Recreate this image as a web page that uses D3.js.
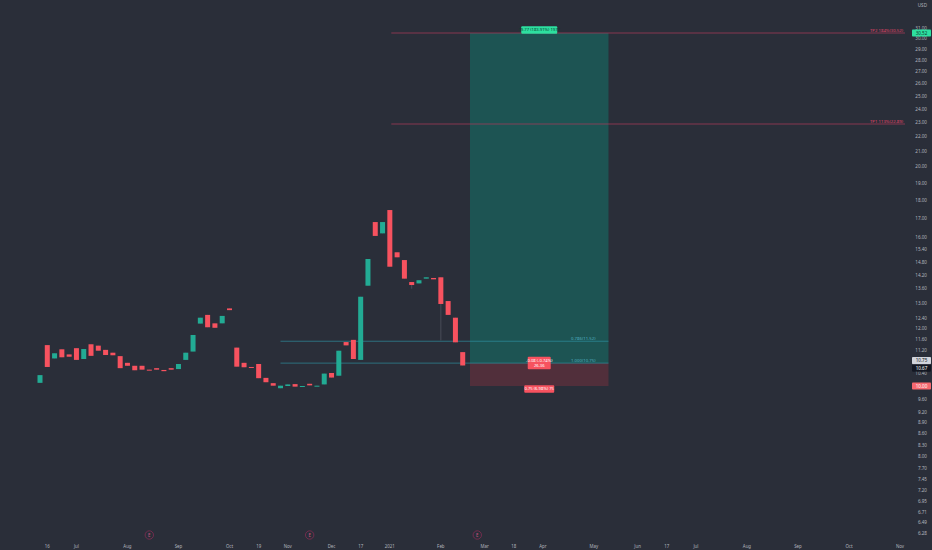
<!DOCTYPE html>
<html>
<head>
<meta charset="utf-8">
<script src="https://cdn.jsdelivr.net/npm/d3@7.9.0/dist/d3.min.js"></script>
<style>
  html, body { margin: 0; padding: 0; background: #2a2e39; }
  svg { display: block; font-family: "Noto Sans", "DejaVu Sans", sans-serif; }
</style>
</head>
<body>
<svg id="chart" width="932" height="550"></svg>
<script>
// 3-day candles, one entry per bar index
const opens  = [10.10, 11.38, 10.91, 11.23, 11.05, 11.27, 10.89, 11.41, 11.36, 11.21,
                11.11, 10.99, 10.76, 10.66, 10.66, 10.53, 10.58, 10.52, 10.58, 10.55,
                10.86, 11.15, 12.18, 12.52, 12.19, 12.19, 12.78, 11.29, 10.76, 10.62,
                10.72, 10.26, 10.09, 9.93, 10.00, 10.06, 9.98, 10.07, 10.00, 10.05,
                10.42, 10.33, 11.49, 11.57, 10.86, 13.73, 16.79, 16.20, 17.44, 15.26,
                14.89, 13.89, 13.83, 14.04, 14.07, 14.10, 13.08, 12.41, 11.13];
const closes = [10.35, 10.62, 11.09, 10.95, 10.97, 10.86, 11.24, 11.00, 11.18, 11.03,
                11.02, 10.58, 10.66, 10.51, 10.53, 10.52, 10.53, 10.48, 10.53, 10.72,
                11.11, 11.75, 12.41, 12.04, 12.02, 12.48, 12.71, 10.63, 10.61, 10.61,
                10.25, 10.12, 10.01, 10.01, 10.05, 9.98, 10.00, 10.02, 10.01, 10.40,
                10.27, 11.18, 11.37, 10.89, 13.26, 14.94, 16.07, 16.79, 14.58, 15.02,
                14.04, 13.76, 13.97, 14.10, 14.01, 12.96, 12.52, 11.48, 10.67];
const highs  = [10.35, 11.38, 11.09, 11.23, 11.05, 11.27, 11.24, 11.41, 11.36, 11.21,
                11.11, 10.99, 10.76, 10.66, 10.66, 10.53, 10.58, 10.52, 10.58, 10.72,
                11.11, 11.75, 12.41, 12.52, 12.19, 12.48, 12.78, 11.29, 10.76, 10.62,
                10.72, 10.26, 10.09, 10.01, 10.05, 10.06, 10.00, 10.07, 10.01, 10.40,
                10.42, 11.18, 11.49, 11.57, 13.26, 14.94, 16.79, 16.79, 17.44, 15.26,
                14.89, 13.89, 13.97, 14.10, 14.07, 14.10, 13.08, 12.41, 11.13];
const lows   = [10.10, 10.62, 10.91, 10.95, 10.97, 10.86, 10.89, 11.00, 11.18, 11.03,
                11.02, 10.58, 10.66, 10.51, 10.53, 10.52, 10.53, 10.48, 10.53, 10.55,
                10.86, 11.15, 12.18, 12.04, 12.02, 12.19, 12.71, 10.63, 10.61, 10.61,
                10.25, 10.12, 10.01, 9.93, 10.00, 9.98, 9.98, 10.02, 10.00, 10.05,
                10.27, 10.33, 11.37, 10.89, 10.86, 13.73, 16.07, 16.20, 14.58, 15.02,
                14.04, 13.60, 13.83, 14.04, 14.01, 11.55, 12.52, 11.48, 10.67];

const timeTickBars   = [1, 5, 12, 19, 26, 30, 34, 40, 44, 48, 55, 61, 65, 69, 76, 82, 86, 90, 97, 104, 111, 118];
const timeTickLabels = ["16", "Jul", "Aug", "Sep", "Oct", "19", "Nov", "Dec", "17", "2021", "Feb",
                        "Mar", "18", "Apr", "May", "Jun", "17", "Jul", "Aug", "Sep", "Oct", "Nov"];
const priceTicks = [31, 30, 29, 28, 27, 26, 25, 24, 23, 22, 21, 20, 19, 18, 17, 16, 15.4, 14.8, 14.2,
                    13.6, 13, 12.4, 12, 11.6, 11.2, 10.4, 9.6, 9.2, 8.9, 8.6, 8.3, 8, 7.7, 7.45,
                    7.2, 6.95, 6.71, 6.49, 6.28];
const earningsBars = [15, 37, 60];

// long position tool
const entryPrice = 10.75, targetPrice = 30.52, stopPrice = 10.00, lastPrice = 10.67;
const positionBars = [59, 78];
// fib lines
const fibPrices = [11.52, 10.75];
const fibLabels = ["0.786(11.52)", "1.000(10.75)"];
const fibBars = [33, 78];
// take profit lines
const tpPrices = [30.52, 22.89];
const tpLabels = ["TP2 184%(30.52)", "TP1 113%(22.89)"];
const tpStartBar = 48.2;

const width = 932, height = 550;
const axisX = 905;
const up = "#22ab94", down = "#f7525f", txt = "#b2b5be";

const svg = d3.select('#chart');
svg.append('rect').attr('width', width).attr('height', height).attr('fill', '#2a2e39');

const x = d3.scaleLinear().domain([0, 118]).range([40, 900]);
const y = d3.scaleLog().domain([10, 30.52]).range([386, 33]);

// position box
const boxX0 = x(positionBars[0]), boxX1 = x(positionBars[1]);
svg.append('rect')
  .attr('x', boxX0).attr('width', boxX1 - boxX0)
  .attr('y', y(targetPrice)).attr('height', y(entryPrice) - y(targetPrice))
  .attr('fill', '#089981').attr('fill-opacity', 0.36);
svg.append('rect')
  .attr('x', boxX0).attr('width', boxX1 - boxX0)
  .attr('y', y(entryPrice)).attr('height', y(stopPrice) - y(entryPrice))
  .attr('fill', '#f23645').attr('fill-opacity', 0.2);

// fib lines
svg.append('g').selectAll('line').data(fibPrices).join('line')
  .attr('x1', x(fibBars[0])).attr('x2', x(fibBars[1]))
  .attr('y1', d => y(d)).attr('y2', d => y(d))
  .attr('stroke', '#2f97a8').attr('stroke-opacity', 0.8).attr('stroke-width', 0.8);
svg.append('g').selectAll('text').data(fibPrices).join('text')
  .attr('x', x(fibBars[1]) - 13).attr('y', d => y(d) - 1.5)
  .attr('text-anchor', 'end').attr('font-size', 4.3).attr('fill', '#4fb0c0')
  .text((d, i) => fibLabels[i]);

// tp lines
svg.append('g').selectAll('line').data(tpPrices).join('line')
  .attr('x1', x(tpStartBar)).attr('x2', axisX)
  .attr('y1', d => y(d)).attr('y2', d => y(d))
  .attr('stroke', '#b03a5a').attr('stroke-width', 0.7);
svg.append('g').selectAll('text').data(tpPrices).join('text')
  .attr('x', axisX - 2).attr('y', d => y(d) - 1.5)
  .attr('text-anchor', 'end').attr('font-size', 4.3).attr('fill', '#e0456a')
  .text((d, i) => tpLabels[i]);

// candles
const bars = d3.range(opens.length);
const bodyW = 5;
svg.append('g').selectAll('line').data(bars).join('line')
  .attr('x1', i => x(i)).attr('x2', i => x(i))
  .attr('y1', i => y(highs[i])).attr('y2', i => y(lows[i]))
  .attr('stroke', '#5d606b').attr('stroke-width', 0.6);
svg.append('g').selectAll('rect').data(bars).join('rect')
  .attr('x', i => x(i) - bodyW / 2).attr('width', bodyW)
  .attr('y', i => y(Math.max(opens[i], closes[i])))
  .attr('height', i => Math.max(1, Math.abs(y(opens[i]) - y(closes[i]))))
  .attr('fill', i => closes[i] >= opens[i] ? up : down);

// position labels
const midX = (boxX0 + boxX1) / 2;
function tag(cx, cy, lines, bg, fg, w) {
  const h = lines.length * 5 + 2.5;
  const g = svg.append('g');
  g.append('rect').attr('x', cx - w / 2).attr('y', cy - h / 2).attr('width', w).attr('height', h)
    .attr('rx', 1).attr('fill', bg);
  g.selectAll('text').data(lines).join('text')
    .attr('x', cx).attr('y', (d, i) => cy - h / 2 + 5 + i * 5)
    .attr('text-anchor', 'middle').attr('font-size', 4.2).attr('fill', fg).text(d => d);
}
const tDiff = targetPrice - entryPrice, sDiff = entryPrice - stopPrice;
tag(midX, y(targetPrice) - 3, [`${tDiff.toFixed(2)} (${(tDiff / entryPrice * 100).toFixed(2)}%) ${Math.round(tDiff * 100)}`], '#2de0a0', '#0c3b30', 36);
tag(midX, y(stopPrice) + 3, [`${sDiff.toFixed(2)} (${(sDiff / entryPrice * 100).toFixed(2)}%) ${Math.round(sDiff * 100)}`], '#f7525f', '#ffffff', 30);
const pl = lastPrice - entryPrice;
tag(midX, y(entryPrice), [`${pl.toFixed(2)} (${(pl / entryPrice * 100).toFixed(2)}%)`, (tDiff / sDiff).toFixed(2)], '#f7525f', '#ffffff', 23);

// price axis
svg.append('g').selectAll('text').data(priceTicks).join('text')
  .attr('x', 927).attr('y', d => y(d) + 1.6)
  .attr('text-anchor', 'end').attr('font-size', 4.6).attr('fill', txt)
  .text(d => d.toFixed(2));
svg.append('text').attr('x', 927).attr('y', 7).attr('text-anchor', 'end')
  .attr('font-size', 4.6).attr('fill', txt).text('USD');

// price axis tags, pushed apart where they would overlap
const axisTags = [
  { p: targetPrice, bg: '#2de0a0', fg: '#0c3b30' },
  { p: entryPrice, bg: '#d1d4dc', fg: '#131722' },
  { p: lastPrice, bg: '#131722', fg: '#ffffff' },
  { p: stopPrice, bg: '#f7686f', fg: '#ffffff' }
];
axisTags.forEach(t => t.cy = y(t.p));
for (let k = 1; k < axisTags.length; k++) {
  const a = axisTags[k - 1], b = axisTags[k];
  if (b.cy - a.cy < 7.5) { const m = (a.cy + b.cy) / 2; a.cy = m - 3.75; b.cy = m + 3.75; }
}
const at = svg.append('g').selectAll('g').data(axisTags).join('g');
at.append('rect').attr('x', 912).attr('y', d => d.cy - 3.6).attr('width', 19).attr('height', 7.2)
  .attr('rx', 0.8).attr('fill', d => d.bg);
at.append('text').attr('x', 921.5).attr('y', d => d.cy + 1.6).attr('text-anchor', 'middle')
  .attr('font-size', 4.6).attr('fill', d => d.fg).text(d => d.p.toFixed(2));

// time axis
svg.append('g').selectAll('text').data(timeTickBars).join('text')
  .attr('x', d => x(d)).attr('y', 547.5)
  .attr('text-anchor', 'middle').attr('font-size', 4.4).attr('fill', txt)
  .text((d, i) => timeTickLabels[i]);

// earnings markers
const eg = svg.append('g').selectAll('g').data(earningsBars).join('g')
  .attr('transform', d => `translate(${x(d)},535)`);
eg.append('circle').attr('r', 4.2).attr('fill', '#2a2e39').attr('stroke', '#8f2d56').attr('stroke-width', 0.7);
eg.append('text').attr('y', 1.6).attr('text-anchor', 'middle').attr('font-size', 4.4)
  .attr('fill', '#c9557f').text('E');
</script>
</body>
</html>
